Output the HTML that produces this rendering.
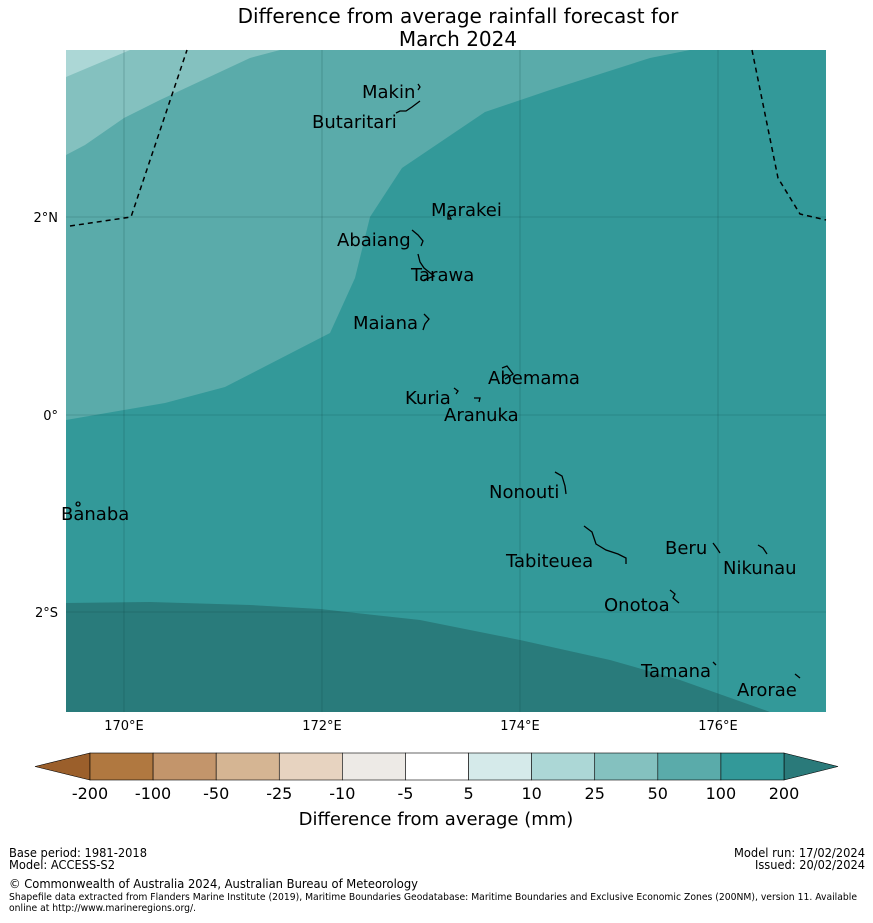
<!DOCTYPE html>
<html><head><meta charset="utf-8"><style>
body{margin:0;background:#fff;font-family:"DejaVu Sans","Liberation Sans",sans-serif;}
svg text{font-family:"DejaVu Sans","Liberation Sans",sans-serif;}
</style></head><body>
<svg id="c" width="873" height="919" xmlns="http://www.w3.org/2000/svg">
<text x="458" y="23" font-size="20" text-anchor="middle">Difference from average rainfall forecast for</text>
<text x="458" y="46" font-size="20" text-anchor="middle">March 2024</text>
<g>
<rect x="66" y="50" width="760" height="662" fill="#339999"/>
<polygon fill="#5aabaa" points="66,50 690,50 650,58 550,90 485,112 402,168 370,217 355,278 330,333 225,387 165,403 124,410 66,420"/>
<polygon fill="#84c1bf" points="66,50 280,50 250,58 160,100 124,118 85,145 66,155"/>
<polygon fill="#acd7d6" points="66,50 130,50 66,77"/>
<polygon fill="#297b7b" points="66,603 150,602 250,605 320,609 420,620 520,640 610,660 680,680 770,712 66,712"/>
<g stroke="#0b3b3b" stroke-opacity="0.4" stroke-width="0.6">
<line x1="124" y1="50" x2="124" y2="712"/><line x1="322" y1="50" x2="322" y2="712"/><line x1="520" y1="50" x2="520" y2="712"/><line x1="718" y1="50" x2="718" y2="712"/>
<line x1="66" y1="217" x2="826" y2="217"/><line x1="66" y1="415" x2="826" y2="415"/><line x1="66" y1="612" x2="826" y2="612"/>
</g>
<polyline fill="none" stroke="#000" stroke-width="1.5" stroke-dasharray="5,4" points="70,226 131,217 187,50"/>
<polyline fill="none" stroke="#000" stroke-width="1.5" stroke-dasharray="5,4" points="752,50 778,178 800,214 826,220"/>
<g fill="none" stroke="#000" stroke-width="1.3">
<path d="M418,84 l2,3 l-2,3"/><path d="M396,113 l4,-2 l6,0 l6,-4 l8,-6"/>
<path d="M448,213 l3,6 l-3,0 z"/><path d="M412,230 l6,5 l5,6 l-2,5"/>
<path d="M418,254 l2,8 l4,6 l10,8 l-10,4"/><path d="M424,314 l5,5 l-4,5 l-2,6"/>
<path d="M502,368 l5,-2 l6,8 l-8,5"/><path d="M454,388 l4,3 l-2,3"/><path d="M474,398 l6,0 l-1,4"/>
<path d="M555,472 l7,4 l3,10 l1,8"/><path d="M584,526 l8,6 l4,12 l10,6 l12,4 l8,4 l0,6"/>
<path d="M713,543 l3,4 l4,6"/><path d="M758,545 l5,3 l4,6"/><path d="M670,590 l5,4 l-2,4 l6,5"/>
<path d="M713,662 l3,3"/><path d="M795,674 l5,4"/><path d="M78,502 a2,2 0 1,0 0.1,0"/>
</g>
<g font-size="18" fill="#000">
<text x="362" y="98">Makin</text>
<text x="312" y="128">Butaritari</text>
<text x="431" y="216">Marakei</text>
<text x="337" y="246">Abaiang</text>
<text x="411" y="281">Tarawa</text>
<text x="353" y="329">Maiana</text>
<text x="488" y="384">Abemama</text>
<text x="405" y="404">Kuria</text>
<text x="444" y="421">Aranuka</text>
<text x="489" y="498">Nonouti</text>
<text x="61" y="520">Banaba</text>
<text x="665" y="554">Beru</text>
<text x="506" y="567">Tabiteuea</text>
<text x="723" y="574">Nikunau</text>
<text x="604" y="611">Onotoa</text>
<text x="641" y="677">Tamana</text>
<text x="737" y="696">Arorae</text>
</g>
</g>
<g font-size="13" fill="#000">
<text x="124" y="730" text-anchor="middle">170°E</text>
<text x="322" y="730" text-anchor="middle">172°E</text>
<text x="520" y="730" text-anchor="middle">174°E</text>
<text x="718" y="730" text-anchor="middle">176°E</text>
<text x="58" y="222" text-anchor="end">2°N</text>
<text x="58" y="420" text-anchor="end">0°</text>
<text x="58" y="617" text-anchor="end">2°S</text>
</g>
<g id="cbar"></g>
<text x="436" y="825" font-size="18" text-anchor="middle">Difference from average (mm)</text>
<g font-size="12">
<text x="9" y="857" textLength="138" lengthAdjust="spacingAndGlyphs">Base period: 1981-2018</text>
<text x="9" y="869" textLength="106" lengthAdjust="spacingAndGlyphs">Model: ACCESS-S2</text>
<text x="734" y="857" textLength="131" lengthAdjust="spacingAndGlyphs">Model run: 17/02/2024</text>
<text x="755" y="869" textLength="110" lengthAdjust="spacingAndGlyphs">Issued: 20/02/2024</text>
<text x="9" y="888" textLength="409" lengthAdjust="spacingAndGlyphs">© Commonwealth of Australia 2024, Australian Bureau of Meteorology</text>
<text x="9" y="900" font-size="9.5" textLength="848" lengthAdjust="spacingAndGlyphs">Shapefile data extracted from Flanders Marine Institute (2019), Maritime Boundaries Geodatabase: Maritime Boundaries and Exclusive Economic Zones (200NM), version 11. Available</text>
<text x="9" y="911" font-size="9.5" textLength="187" lengthAdjust="spacingAndGlyphs">online at http://www.marineregions.org/.</text>
</g>
</svg>
<script>
const levels=["-200","-100","-50","-25","-10","-5","5","10","25","50","100","200"];
const binColors=["#b07840","#c3956b","#d5b593","#e7d3c0","#edeae6","#ffffff","#d5eaea","#acd7d6","#84c1bf","#5aabaa","#339999"];
const lowColor="#9b5f2b", highColor="#2a7a7a";
const NS="http://www.w3.org/2000/svg";
const g=document.getElementById('cbar');
const x0=90,x1=784,y0=753,y1=780;
const w=(x1-x0)/binColors.length;
function bx(i){return x0+i*w;}
const la=document.createElementNS(NS,'polygon');
la.setAttribute('points',`35,${(y0+y1)/2} ${x0},${y0} ${x0},${y1}`);la.setAttribute('fill',lowColor);la.setAttribute('stroke','#000');la.setAttribute('stroke-width','0.6');


g.appendChild(la);
const ra=document.createElementNS(NS,'polygon');
ra.setAttribute('points',`${x1},${y0} 838,${(y0+y1)/2} ${x1},${y1}`);ra.setAttribute('fill',highColor);ra.setAttribute('stroke','#000');ra.setAttribute('stroke-width','0.6');


g.appendChild(ra);
binColors.forEach((c,i)=>{
 const r=document.createElementNS(NS,'rect');
 r.setAttribute('x',bx(i));r.setAttribute('y',y0);r.setAttribute('width',w);r.setAttribute('height',y1-y0);
 r.setAttribute('fill',c);r.setAttribute('stroke','#000');r.setAttribute('stroke-width','0.6');
 
 
 g.appendChild(r);
});
levels.forEach((l,i)=>{
 const t=document.createElementNS(NS,'text');
 t.setAttribute('x',bx(i));t.setAttribute('y',799);t.setAttribute('font-size','16');t.setAttribute('text-anchor','middle');
 t.textContent=l;
 
 
 g.appendChild(t);
});
</script>
</body></html>
